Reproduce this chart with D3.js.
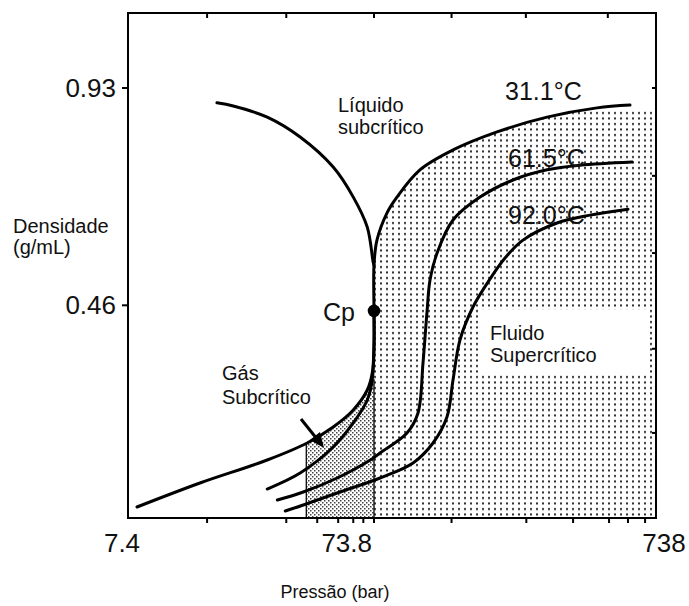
<!DOCTYPE html>
<html>
<head>
<meta charset="utf-8">
<script src="https://cdn.jsdelivr.net/npm/d3@7"></script>
<style>
  html, body { margin: 0; padding: 0; background: #fff; }
  svg { display: block; }
  text { font-family: "Liberation Sans", Arial, sans-serif; fill: #111; }
</style>
</head>
<body>
<svg id="chart" width="689" height="606"></svg>
<script>
// ---------------- data ----------------
// Pressure (bar) / density (g/mL)
const liquidP = [17.0, 19.8, 27.2, 37.0, 50.4, 60.8, 69.3, 73.3, 73.8];
const liquidD = [0.898, 0.891, 0.867, 0.824, 0.759, 0.694, 0.629, 0.552, 0.547];

const vaporP = [73.8, 73.8, 72.6, 69.3, 60.8, 50.4, 39.5, 27.2, 14.5, 8.05];
const vaporD = [0.448, 0.370, 0.3136, 0.2768, 0.2336, 0.1968, 0.1622, 0.1254, 0.0757, 0.0238];

const iso31P = [27.2, 37.0, 50.4, 60.8, 69.3, 72.6, 73.8, 73.8, 73.8, 75.6, 82.1, 89.0, 107.4, 140.7, 201.6, 303.1, 455.9, 596.8];
const iso31D = [0.0627, 0.0973, 0.1536, 0.2055, 0.2552, 0.2985, 0.374, 0.448, 0.547, 0.601, 0.660, 0.694, 0.753, 0.796, 0.835, 0.867, 0.887, 0.893];

const iso61P = [29.9, 38.1, 52.3, 71.3, 77.5, 96.6, 105.7, 110.1, 113.7, 116.6, 123.5, 140.7, 175.4, 229.6, 303.1, 396.8, 606.8];
const iso61D = [0.0389, 0.0562, 0.0865, 0.1254, 0.1406, 0.1838, 0.2271, 0.3352, 0.4434, 0.5147, 0.573, 0.6445, 0.694, 0.731, 0.753, 0.763, 0.770];

const iso92P = [32.2, 38.1, 52.3, 77.5, 101.5, 119.5, 133.9, 140.7, 148.9, 165.6, 187.2, 215.1, 249.1, 328.9, 430.5, 587.2];
const iso92D = [0.0151, 0.0281, 0.0541, 0.0865, 0.119, 0.1622, 0.2184, 0.2985, 0.385, 0.4564, 0.5104, 0.5623, 0.601, 0.638, 0.655, 0.668];

const critP = 73.8, critD = 0.448;
const gasRegionP = [39.2, 73.8];           // lightly dotted band
const gasLineTopD = 0.1625;                 // vapour curve at 39.2 bar
const critLineTopD = 0.30;
const superCapD = 0.882;                   // top of dotted supercritical zone

const xLabelValues = [7.4, 73.8, 738];
const xLabels = ["7.4", "73.8", "738"];
const yLabelValues = [0.46, 0.93];
const yLabels = ["0.46", "0.93"];
const bottomTicks = [15.5, 32.5, 43.4, 52.8, 60.8, 66.8, 73.8, 139, 256, 375, 503, 587, 675];
const topTicks = [15.5, 32.5, 73.8, 139, 255, 498];
const rightTicks = [0.93, 0.74, 0.573, 0.366, 0.184];

const isoLabels = ["31.1°C", "61.5°C", "92.0°C"];

// ---------------- scales ----------------
const svg = d3.select("#chart");
const L = 128, R = 656, T = 13, B = 518;
const x = d3.scaleLog().domain([7.4, 73.8, 738]).range([L, 374, R]);
const y = d3.scaleLinear().domain([0, 0.93]).range([B, 88]);

const pts = (P, D) => P.map((p, i) => [x(p), y(D[i])]);
const line = d3.line().curve(d3.curveCatmullRom.alpha(0.5));

// ---------------- patterns ----------------
const defs = svg.append("defs");
const pDense = defs.append("pattern").attr("id", "dense").attr("patternUnits", "userSpaceOnUse")
  .attr("width", 6).attr("height", 5.5);
pDense.append("rect").attr("x", 2).attr("y", 2).attr("width", 2).attr("height", 2).attr("fill", "#2a2a2a");

const pLight = defs.append("pattern").attr("id", "light").attr("patternUnits", "userSpaceOnUse")
  .attr("width", 4).attr("height", 4);
pLight.append("rect").attr("x", 0).attr("y", 0).attr("width", 1.5).attr("height", 1.5).attr("fill", "#444");
pLight.append("rect").attr("x", 2).attr("y", 2).attr("width", 1.5).attr("height", 1.5).attr("fill", "#444");

defs.append("clipPath").attr("id", "clipSuper").append("rect")
  .attr("x", x(73.8)).attr("y", y(superCapD)).attr("width", x(738) - x(73.8)).attr("height", y(0) - y(superCapD));
defs.append("clipPath").attr("id", "clipGas").append("rect")
  .attr("x", x(gasRegionP[0])).attr("y", T).attr("width", x(gasRegionP[1]) - x(gasRegionP[0])).attr("height", B - T);

// supercritical region: below upper 31.1 curve
const upperIdx = 8;
const upperPts = pts(iso31P.slice(upperIdx), iso31D.slice(upperIdx));
const lastD = iso31D[iso31D.length - 1];
const superPath = line(upperPts) + `L${x(738)},${y(lastD)}L${x(738)},${y(0)}L${x(73.8)},${y(0)}Z`;
svg.append("path").attr("d", superPath).attr("fill", "url(#dense)").attr("clip-path", "url(#clipSuper)");

// gas subcritical region: below vapour branch
const vPts = pts(vaporP, vaporD);
const gasPath = line(vPts) + `L${x(vaporP[vaporP.length - 1])},${y(0)}L${x(73.8)},${y(0)}Z`;
svg.append("path").attr("d", gasPath).attr("fill", "url(#light)").attr("clip-path", "url(#clipGas)");

// white box behind "Fluido Supercrítico"
svg.append("rect").attr("x", 480).attr("y", 310).attr("width", 167).attr("height", 65).attr("fill", "#fff");

// thin vertical lines
svg.append("line").attr("x1", x(gasRegionP[0])).attr("x2", x(gasRegionP[0]))
  .attr("y1", y(gasLineTopD)).attr("y2", y(0)).attr("stroke", "#111").attr("stroke-width", 1.4);
svg.append("line").attr("x1", x(73.8)).attr("x2", x(73.8))
  .attr("y1", y(critLineTopD)).attr("y2", y(0)).attr("stroke", "#111").attr("stroke-width", 1.4);

// curves
const curves = [[liquidP, liquidD], [vaporP, vaporD], [iso31P, iso31D], [iso61P, iso61D], [iso92P, iso92D]];
curves.forEach(([P, D]) => {
  svg.append("path").attr("d", line(pts(P, D))).attr("fill", "none")
    .attr("stroke", "#000").attr("stroke-width", 3).attr("stroke-linecap", "round").attr("stroke-linejoin", "round");
});

// critical point
svg.append("circle").attr("cx", x(critP)).attr("cy", y(critD)).attr("r", 6.3).attr("fill", "#000");

// arrow
svg.append("line").attr("x1", 301).attr("y1", 419).attr("x2", 317).attr("y2", 439)
  .attr("stroke", "#000").attr("stroke-width", 3);
svg.append("path").attr("d", "M324,448 L310,440 L320,432 Z").attr("fill", "#000");

// frame
svg.append("rect").attr("x", L).attr("y", T).attr("width", R - L).attr("height", B - T)
  .attr("fill", "none").attr("stroke", "#000").attr("stroke-width", 2);

// ticks
const tk = svg.append("g").attr("stroke", "#000").attr("stroke-width", 2);
bottomTicks.forEach(v => tk.append("line").attr("x1", x(v)).attr("x2", x(v)).attr("y1", B).attr("y2", B + 5));
topTicks.forEach(v => tk.append("line").attr("x1", x(v)).attr("x2", x(v)).attr("y1", T).attr("y2", T + 5));
rightTicks.forEach(v => tk.append("line").attr("x1", R).attr("x2", R - 4).attr("y1", y(v)).attr("y2", y(v)));
yLabelValues.forEach(v => tk.append("line").attr("x1", L).attr("x2", L - 6).attr("y1", y(v)).attr("y2", y(v)));

// tick labels
const xLabelDx = [-6, -2, 8];
const xLabelAnchor = ["middle", "end", "middle"];
xLabelValues.forEach((v, i) => {
  svg.append("text").attr("x", x(v) + xLabelDx[i]).attr("y", 552).attr("text-anchor", xLabelAnchor[i])
    .attr("font-size", 26).text(xLabels[i]);
});
yLabelValues.forEach((v, i) => {
  svg.append("text").attr("x", 116).attr("y", y(v) + 9).attr("text-anchor", "end")
    .attr("font-size", 26).text(yLabels[i]);
});

// axis titles
svg.append("text").attr("x", 335).attr("y", 598).attr("text-anchor", "middle").attr("font-size", 18).text("Pressão (bar)");
svg.append("text").attr("x", 13).attr("y", 233).attr("font-size", 20).text("Densidade");
svg.append("text").attr("x", 13).attr("y", 254).attr("font-size", 20).text("(g/mL)");

// annotations
const ann = [
  ["Líquido", 338, 112, 20], ["subcrítico", 338, 134, 20],
  ["Gás", 222, 380, 20], ["Subcrítico", 222, 404, 20],
  ["Fluido", 490, 340, 20], ["Supercrítico", 490, 362, 20],
  ["Cp", 323, 321, 25],
  [isoLabels[0], 505, 100, 25], [isoLabels[1], 508, 167, 25], [isoLabels[2], 508, 224, 25]
];
ann.forEach(([t, ax, ay, fs]) => svg.append("text").attr("x", ax).attr("y", ay).attr("font-size", fs).text(t));
</script>
</body>
</html>
